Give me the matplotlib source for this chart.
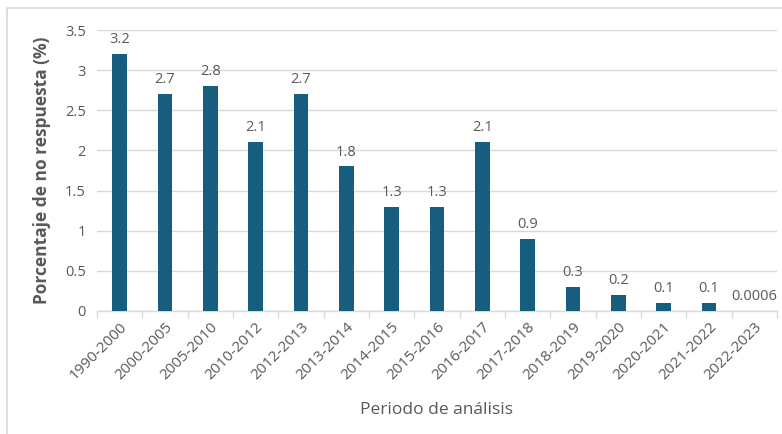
import matplotlib
matplotlib.use("Agg")
import matplotlib.pyplot as plt
from matplotlib.patches import Rectangle

periods = ["1990-2000", "2000-2005", "2005-2010", "2010-2012", "2012-2013",
           "2013-2014", "2014-2015", "2015-2016", "2016-2017", "2017-2018",
           "2018-2019", "2019-2020", "2020-2021", "2021-2022", "2022-2023"]
values = [3.2, 2.7, 2.8, 2.1, 2.7, 1.8, 1.3, 1.3, 2.1, 0.9, 0.3, 0.2, 0.1, 0.1, 0.0006]
value_labels = ["3.2", "2.7", "2.8", "2.1", "2.7", "1.8", "1.3", "1.3", "2.1", "0.9",
                "0.3", "0.2", "0.1", "0.1", "0.0006"]
yticks = [0, 0.5, 1, 1.5, 2, 2.5, 3, 3.5]
ytick_labels = ["0", "0.5", "1", "1.5", "2", "2.5", "3", "3.5"]

plt.rcParams['font.family'] = ['Open Sans', 'DejaVu Sans']
txt = "#595959"
bar_color = "#175E7E"

fig = plt.figure(figsize=(7.82, 4.34), dpi=100)
fig.patches.append(Rectangle((7/782, -0.2), 1.2, 0.2 + (434-8)/434, transform=fig.transFigure,
                             fill=False, edgecolor="#D9D9D9", linewidth=1.2))
ax = fig.add_axes([97/782, 123/434, (777-97)/782, (311-30)/434])

x = range(len(periods))
ax.bar(x, values, width=0.33, color=bar_color, zorder=3)
for i, (v, lab) in enumerate(zip(values, value_labels)):
    ax.annotate(lab, (i, v), xytext=(0, 5), textcoords="offset points",
                ha="center", va="bottom", fontsize=10.5, color=txt)

ax.set_ylim(0, 3.5)
ax.set_xlim(-0.5, len(periods) - 0.5)
ax.set_yticks(yticks)
ax.set_yticklabels(ytick_labels, fontsize=10.5, color=txt)
ax.yaxis.grid(True, color="#D9D9D9", linewidth=1, zorder=0)
ax.tick_params(axis="y", length=0, pad=8)

ax.set_xticks(list(x))
ax.set_xticklabels(periods, rotation=45, ha="right", rotation_mode="anchor",
                   fontsize=11, color=txt)
ax.set_xticks([i - 0.5 for i in range(len(periods) + 1)], minor=True)
ax.tick_params(axis="x", which="major", length=0, pad=6)
ax.tick_params(axis="x", which="minor", length=5, color="#D9D9D9", width=1)

for s in ["top", "right", "left"]:
    ax.spines[s].set_visible(False)
ax.spines["bottom"].set_color("#D9D9D9")
ax.spines["bottom"].set_linewidth(1)

ax.set_ylabel("Porcentaje de no respuesta (%)", fontsize=12.5, fontweight="bold",
              color=txt, labelpad=10)
ax.set_xlabel("Periodo de análisis", fontsize=12.5, color=txt, labelpad=14)

fig.savefig("out.png", dpi=100)
